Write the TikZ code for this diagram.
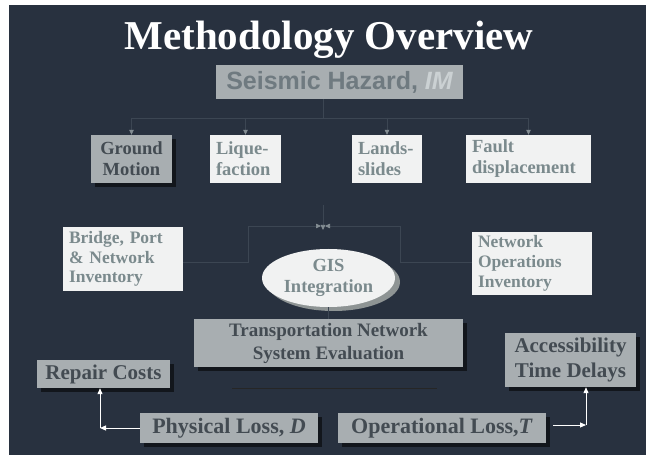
\documentclass[tikz,border=0pt]{standalone}
\usepackage{fontspec}
\setmainfont{Liberation Serif}
\newfontfamily\hazardsans{Liberation Sans}
\usetikzlibrary{arrows.meta,shapes.geometric,shadows,calc}

\definecolor{slate}{HTML}{28313F}
\definecolor{boxgray}{HTML}{A8AEB1}
\definecolor{boxwhite}{HTML}{F1F2F2}
\definecolor{graytext}{HTML}{434B52}
\definecolor{whitetext}{HTML}{7B8A8D}
\definecolor{hazardtext}{HTML}{6F7A80}
\definecolor{hazardim}{HTML}{CBD1D3}
\definecolor{faintline}{HTML}{3C4653}
\definecolor{tipgray}{HTML}{848E94}
\definecolor{gisshade}{HTML}{8E9494}

\newcommand{\fsz}[2]{\fontsize{#1}{#2}\selectfont}

\begin{document}
\begin{tikzpicture}[x=1pt,y=-1pt,
  graybox/.style={fill=boxgray, text=graytext, inner sep=0pt, align=center,
    font=\bfseries,
    drop shadow={shadow xshift=4pt, shadow yshift=-4pt, fill=black, opacity=0.55}},
  whitebox/.style={fill=boxwhite, text=whitetext, inner xsep=6pt, inner ysep=0pt,
    align=left, anchor=center},
  faint/.style={draw=faintline, line width=0.6pt},
  smalltip/.style={-{Triangle[length=5pt,width=4.5pt,color=tipgray]}},
  whitearrow/.style={draw=white, line width=1pt,
    -{Triangle[length=6pt,width=5pt,color=white]}},
]
\useasboundingbox (0,0) rectangle (646,457);
\fill[white] (0,0) rectangle (646,457);
\fill[slate] (9,5) rectangle (646,455);

% title
\node[anchor=base, text=white, font=\bfseries\fsz{41}{41}] (title) at (329,50)
  {Methodology Overview};

% hazard source
\node[fill=boxgray, inner sep=0pt, minimum width=247pt, minimum height=34pt,
  text=hazardtext, font=\hazardsans\bfseries\fsz{25}{25}] (seismic) at (339.5,82)
  {Seismic Hazard, \textcolor{hazardim}{\itshape IM}};

% hazard types
\node[graybox, minimum width=81pt, minimum height=48pt,
  font=\bfseries\fsz{18.5}{21}] (ground) at (131.5,159) {Ground\\Motion};
\node[whitebox, text width=59pt, minimum height=48pt,
  font=\bfseries\fsz{18.5}{21}] (lique) at (245.5,159) {Lique-\\faction};
\node[whitebox, text width=58pt, minimum height=48pt,
  font=\bfseries\fsz{18.5}{21}] (lands) at (387,159) {Lands-\\slides};
\node[whitebox, text width=113pt, minimum height=48pt,
  font=\bfseries\fsz{18.5}{21}] (fault) at (528.5,159) {Fault\\displacement};

% inventories
\node[whitebox, text width=108pt, minimum height=64pt,
  font=\bfseries\fsz{17.5}{19.5}] (bridge) at (123,259)
  {Bridge, Port\\\& Network\\Inventory};
\node[whitebox, text width=108pt, minimum height=63pt,
  font=\bfseries\fsz{17.5}{20}] (netops) at (532,263.5)
  {Network\\Operations\\Inventory};

% GIS integration
\fill[gisshade] (333.5,282) ellipse [x radius=66.5, y radius=29];
\node[ellipse, fill=boxwhite, minimum width=133pt, minimum height=58pt,
  inner sep=0pt, text=whitetext, align=center,
  font=\bfseries\fsz{18.5}{21.5}] (gis) at (328.5,278) {GIS\\Integration};

% evaluation
\node[graybox, minimum width=269pt, minimum height=48pt,
  font=\bfseries\fsz{19}{23}] (trans) at (328.5,343)
  {Transportation Network\\System Evaluation};

% results
\node[graybox, minimum width=133pt, minimum height=28pt,
  font=\bfseries\fsz{21}{21}] (repair) at (103.5,374) {Repair Costs};
\node[graybox, minimum width=131pt, minimum height=54pt,
  font=\bfseries\fsz{21}{25}] (access) at (570.5,360)
  {Accessibility\\Time Delays};
\node[graybox, minimum width=178pt, minimum height=30pt,
  font=\bfseries\fsz{22}{22}] (phys) at (229,428) {Physical Loss, \textit{D}};
\node[graybox, minimum width=208pt, minimum height=30pt,
  font=\bfseries\fsz{22}{22}] (oper) at (442,428) {Operational Loss,\textit{T}};

% hazard distribution
\coordinate (hbus) at (323,118);
\draw[faint] (seismic.south -| hbus) -- (hbus);
\draw[faint] (ground.north |- hbus) -- (fault.north |- hbus);
\draw[faint, smalltip] (ground.north |- hbus) -- (ground.north);
\draw[faint, smalltip] (lique.north |- hbus) -- (lique.north);
\draw[faint, smalltip] (lands.north |- hbus) -- (lands.north);
\draw[faint, smalltip] (fault.north |- hbus) -- (fault.north);

% inputs converging on GIS
\coordinate (meet) at (323,226);
\coordinate (lowbus) at (0,262);
\coordinate (lcorner) at (248,262);
\coordinate (rcorner) at (400,262);
\coordinate (hazdown) at (323,205);
\draw[faint] (bridge.east |- lowbus) -- (lcorner) -- (lcorner |- meet)
  -- ($(meet)+(-3,0)$);
\draw[faint] (netops.west |- lowbus) -- (rcorner) -- (rcorner |- meet)
  -- ($(meet)+(3,0)$);
\draw[faint, smalltip] (lcorner |- meet) -- ($(meet)+(-2,0)$);
\draw[faint, smalltip] (rcorner |- meet) -- ($(meet)+(2,0)$);
\draw[faint, smalltip] (hazdown) -- ($(meet)+(0,4)$);

% GIS to evaluation
\draw[faint] (gis.south -| trans.north) -- (trans.north);

% separator under evaluation
\coordinate (sepl) at (232,388);
\coordinate (sepr) at (437,388);
\draw[draw=black!85, line width=0.7pt] (sepl) -- (sepr);

% loss outputs
\coordinate (pcorner) at (100,428);
\coordinate (ocorner) at (586,425);
\draw[whitearrow] (phys.west) -- (pcorner);
\draw[whitearrow] (pcorner) -- (repair.south -| pcorner);
\draw[whitearrow] ($(oper.east)+(7,-3)$) -- (ocorner);
\draw[whitearrow] (ocorner) -- (access.south -| ocorner);
\end{tikzpicture}
\end{document}
